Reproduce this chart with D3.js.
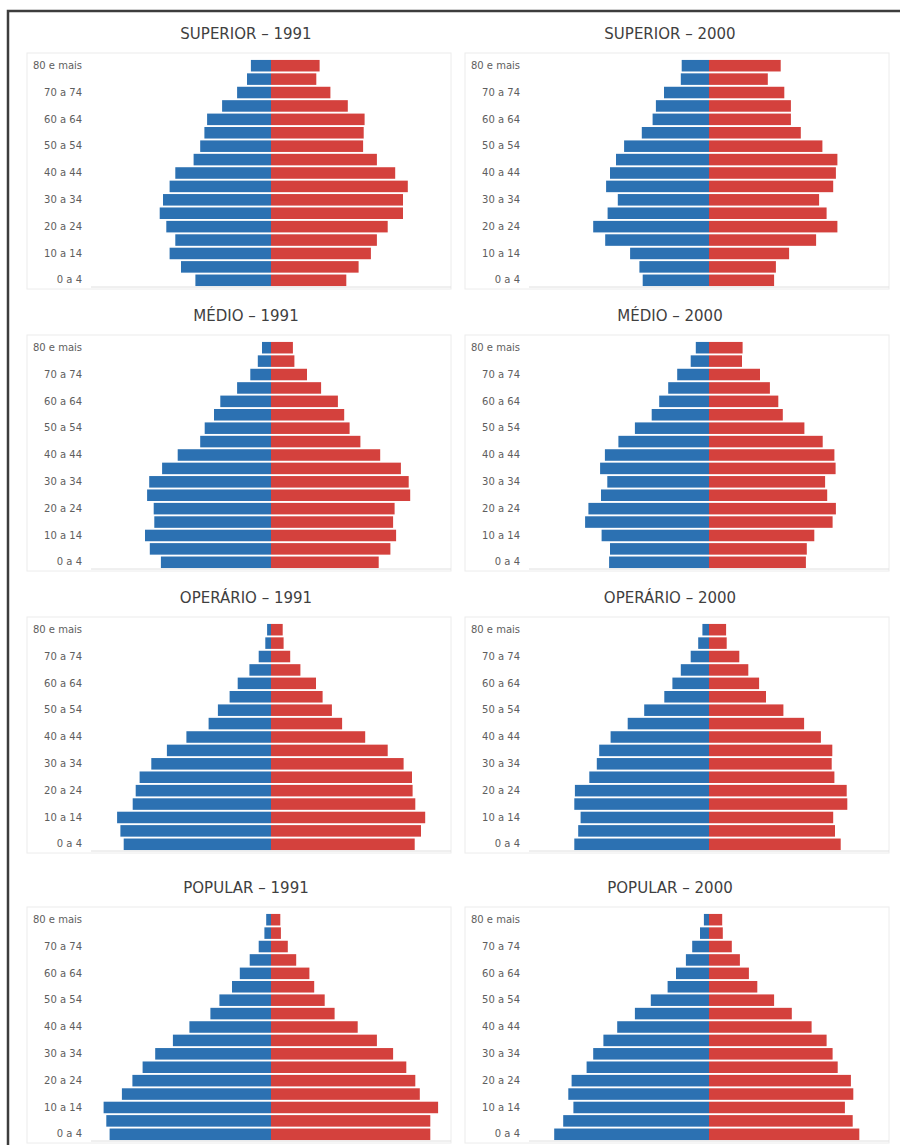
<!DOCTYPE html>
<html>
  <head>
    <meta charset="utf-8">
    <style>
      body { margin: 0; background: #fff; }
      .faixa text { font-family: "DejaVu Sans", sans-serif; font-size: 10px; fill: #5e5e5e; }
      .titulo { font-family: "DejaVu Sans", sans-serif; font-size: 15px; fill: #3f3f3f; }
    </style>
  </head>
  <body>
    <div id="piramides"></div>
  </body>
</html>

<script src="https://d3js.org/d3.v7.min.js"></script>

<script>

    // faixas etarias, da base para o topo
    var faixas = ["0 a 4", "5 a 9", "10 a 14", "15 a 19", "20 a 24", "25 a 29", "30 a 34", "35 a 39",
                  "40 a 44", "45 a 49", "50 a 54", "55 a 59", "60 a 64", "65 a 69", "70 a 74", "75 a 79", "80 e mais"]
    var faixasVisiveis = ["0 a 4", "10 a 14", "20 a 24", "30 a 34", "40 a 44", "50 a 54", "60 a 64", "70 a 74", "80 e mais"]

    // % da populacao em cada faixa (homens / mulheres)
    var homensSup1991   = [2.52, 3.00, 3.38, 3.19, 3.49, 3.71, 3.60, 3.38, 3.19, 2.58, 2.36, 2.22, 2.13, 1.63, 1.13, 0.80, 0.67]
    var mulheresSup1991 = [2.51, 2.92, 3.33, 3.53, 3.89, 4.40, 4.40, 4.56, 4.14, 3.53, 3.07, 3.09, 3.12, 2.56, 1.98, 1.51, 1.62]
    var homensSup2000   = [2.21, 2.32, 2.63, 3.46, 3.86, 3.38, 3.04, 3.43, 3.30, 3.10, 2.83, 2.24, 1.88, 1.77, 1.50, 0.94, 0.91]
    var mulheresSup2000 = [2.17, 2.23, 2.67, 3.57, 4.28, 3.92, 3.67, 4.14, 4.23, 4.28, 3.78, 3.06, 2.73, 2.73, 2.51, 1.96, 2.39]
    var homensMed1991   = [3.67, 4.04, 4.20, 3.89, 3.91, 4.13, 4.06, 3.63, 3.11, 2.36, 2.21, 1.90, 1.69, 1.13, 0.69, 0.44, 0.30]
    var mulheresMed1991 = [3.59, 3.98, 4.17, 4.07, 4.12, 4.64, 4.59, 4.33, 3.64, 2.98, 2.62, 2.44, 2.23, 1.67, 1.20, 0.78, 0.73]
    var homensMed2000   = [3.33, 3.30, 3.58, 4.13, 4.02, 3.60, 3.39, 3.63, 3.47, 3.02, 2.47, 1.91, 1.66, 1.36, 1.06, 0.61, 0.44]
    var mulheresMed2000 = [3.23, 3.26, 3.51, 4.12, 4.23, 3.94, 3.87, 4.22, 4.18, 3.79, 3.18, 2.46, 2.31, 2.03, 1.70, 1.10, 1.12]
    var homensOpe1991   = [4.91, 5.02, 5.13, 4.61, 4.51, 4.38, 3.99, 3.47, 2.82, 2.08, 1.77, 1.38, 1.11, 0.72, 0.41, 0.19, 0.13]
    var mulheresOpe1991 = [4.79, 5.00, 5.14, 4.81, 4.72, 4.70, 4.42, 3.89, 3.14, 2.37, 2.03, 1.72, 1.50, 0.98, 0.64, 0.42, 0.39]
    var homensOpe2000   = [4.49, 4.36, 4.28, 4.49, 4.47, 3.99, 3.74, 3.66, 3.28, 2.71, 2.16, 1.49, 1.22, 0.94, 0.61, 0.36, 0.22]
    var mulheresOpe2000 = [4.39, 4.20, 4.14, 4.61, 4.59, 4.18, 4.09, 4.11, 3.73, 3.17, 2.48, 1.90, 1.67, 1.31, 1.01, 0.59, 0.57]
    var homensPop1991   = [5.38, 5.49, 5.58, 4.97, 4.62, 4.28, 3.86, 3.27, 2.72, 2.02, 1.72, 1.30, 1.04, 0.71, 0.41, 0.22, 0.16]
    var mulheresPop1991 = [5.31, 5.31, 5.57, 4.96, 4.81, 4.51, 4.07, 3.53, 2.89, 2.12, 1.79, 1.44, 1.28, 0.84, 0.56, 0.33, 0.31]
    var homensPop2000   = [5.16, 4.86, 4.52, 4.69, 4.58, 4.08, 3.86, 3.52, 3.06, 2.47, 1.94, 1.38, 1.10, 0.77, 0.56, 0.30, 0.17]
    var mulheresPop2000 = [5.01, 4.79, 4.53, 4.81, 4.73, 4.29, 4.12, 3.92, 3.42, 2.76, 2.17, 1.61, 1.33, 1.03, 0.76, 0.46, 0.44]

    var titulos = ["SUPERIOR – 1991", "SUPERIOR – 2000", "MÉDIO – 1991", "MÉDIO – 2000",
                   "OPERÁRIO – 1991", "OPERÁRIO – 2000", "POPULAR – 1991", "POPULAR – 2000"]
    var homens = [homensSup1991, homensSup2000, homensMed1991, homensMed2000,
                  homensOpe1991, homensOpe2000, homensPop1991, homensPop2000]
    var mulheres = [mulheresSup1991, mulheresSup2000, mulheresMed1991, mulheresMed2000,
                    mulheresOpe1991, mulheresOpe2000, mulheresPop1991, mulheresPop2000]

    // layout
    var width = 900
        height = 1145
    var colunaX = [27, 465]          // borda esquerda de cada grafico
    var linhaY = [53, 335, 617, 907] // borda superior de cada grafico
    var larguraGraf = 424
        alturaGraf = 236
    var azul = "#2c71b2"
        vermelho = "#d4413d"

    var svg = d3.select("#piramides")
      .append("svg")
        .attr("width", width)
        .attr("height", height)

    svg.append("rect").attr("width", width).attr("height", height).attr("fill", "#fff")

    // moldura externa
    svg.append("path")
      .attr("d", "M8," + height + "V11H" + width)
      .attr("fill", "none")
      .attr("stroke", "#3d3d3d")
      .attr("stroke-width", 2.5)

    titulos.forEach(function(titulo, i) {
        var x0 = colunaX[i % 2]
        var y0 = linhaY[Math.floor(i / 2)]
        var centro = x0 + 244

        var g = svg.append("g")

        g.append("rect")
          .attr("x", x0).attr("y", y0)
          .attr("width", larguraGraf).attr("height", alturaGraf)
          .attr("fill", "none")
          .attr("stroke", "#ececec")

        g.append("text")
          .attr("class", "titulo")
          .attr("x", x0 + larguraGraf / 2 + (i % 2 ? -7 : 7))
          .attr("y", y0 - 19)
          .attr("text-anchor", "middle")
          .attr("dominant-baseline", "central")
          .text(titulo)

        var x = d3.scaleLinear()
          .domain([-6, 6])
          .range([centro - 180, centro + 180])

        var y = d3.scaleBand()
          .domain(faixas.slice().reverse())
          .range([y0 + 6, y0 + 234])
          .paddingInner(0.14)
          .paddingOuter(0.07)

        var linhas = faixas.map(function(f, k) {
            return {faixa: f, h: homens[i][k], m: mulheres[i][k]}
        })

        g.selectAll(".homem")
          .data(linhas)
          .enter()
          .append("rect")
            .attr("x", function(d) { return x(-d.h) })
            .attr("y", function(d) { return y(d.faixa) })
            .attr("width", function(d) { return x(0) - x(-d.h) })
            .attr("height", y.bandwidth())
            .attr("fill", azul)

        g.selectAll(".mulher")
          .data(linhas)
          .enter()
          .append("rect")
            .attr("x", x(0))
            .attr("y", function(d) { return y(d.faixa) })
            .attr("width", function(d) { return x(d.m) - x(0) })
            .attr("height", y.bandwidth())
            .attr("fill", vermelho)

        // linha do eixo horizontal
        g.append("line")
          .attr("x1", x(-6)).attr("x2", x(6))
          .attr("y1", y0 + 234).attr("y2", y0 + 234)
          .attr("stroke", "#e0e0e0")

        var eixo = g.append("g")
          .attr("class", "faixa")
          .attr("transform", "translate(" + (x(-6) - 3) + ",0)")
          .call(d3.axisLeft(y).tickValues(faixasVisiveis).tickSize(0).tickPadding(6))
        eixo.select(".domain").remove()
    })

</script>
